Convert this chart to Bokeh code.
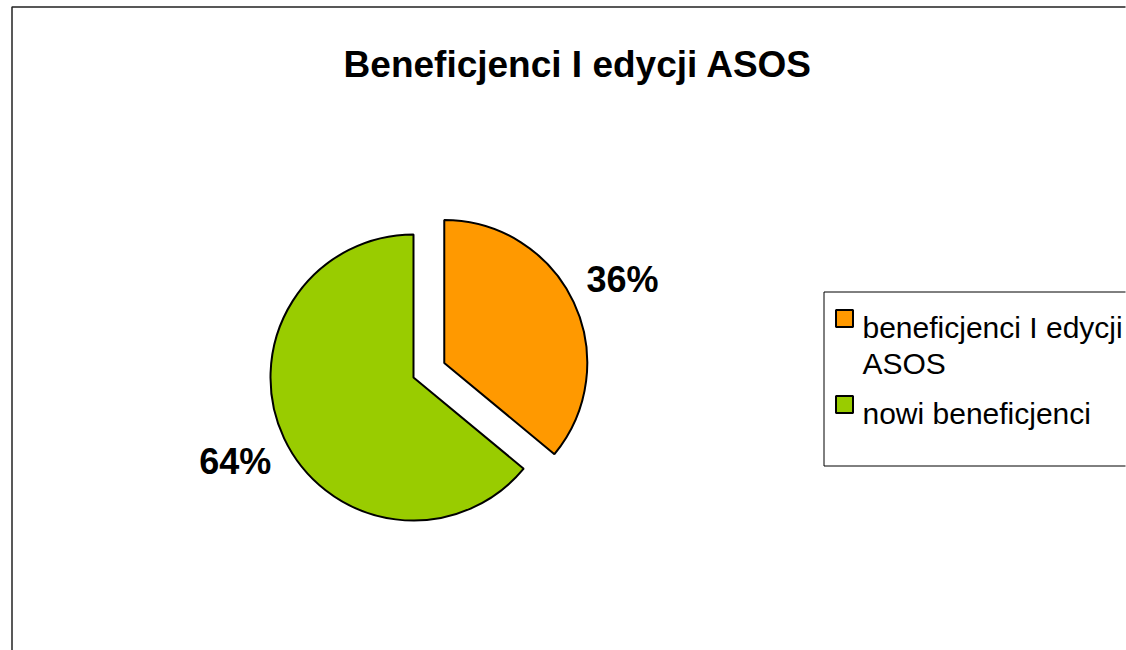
import math
from bokeh.plotting import figure
from bokeh.models import Range1d, ColumnDataSource
from bokeh.core.properties import value
from bokeh.embed import file_html
from bokeh.resources import INLINE

# ---- data ----
title_text = "Beneficjenci I edycji ASOS"
categories = ["beneficjenci I edycji\nASOS", "nowi beneficjenci"]
shares = [36, 64]
colors = ["#FF9900", "#99CC00"]
explode = [34, 0]

# ---- geometry (screen pixels, converted to data units: 1 unit = 1 px) ----
W, H = 1126, 650
def sy(s):
    return H - s

cx, cy = 413, sy(377)
R = 143
label_r = 197
FONT = "Liberation Sans"

p = figure(width=W, height=H, x_range=Range1d(0, W), y_range=Range1d(0, H),
           output_backend="svg", toolbar_location=None, min_border=0,
           x_axis_type=None, y_axis_type=None)
p.grid.visible = False
p.outline_line_color = None
p.background_fill_color = "white"
p.border_fill_color = "white"

# outer chart border (left and top edges; the rest lies outside the view)
p.multi_line(xs=[[11.5, 11.5, W - 1]], ys=[[0, sy(6.5), sy(6.5)]],
             line_color="#222222", line_width=1.5)

# pie slices
total = float(sum(shares))
xs, ys, starts, ends, lx, ly, txt = [], [], [], [], [], [], []
cum = 0.0
for v, ex in zip(shares, explode):
    frac = v / total
    end = math.pi / 2 - 2 * math.pi * cum
    start = math.pi / 2 - 2 * math.pi * (cum + frac)
    mid = (start + end) / 2
    ox = cx + ex * math.cos(mid)
    oy = cy + ex * math.sin(mid)
    xs.append(ox); ys.append(oy); starts.append(start); ends.append(end)
    lx.append(ox + label_r * math.cos(mid)); ly.append(oy + label_r * math.sin(mid))
    txt.append(f"{v}%")
    cum += frac

src = ColumnDataSource(dict(x=xs, y=ys, start=starts, end=ends, color=colors,
                            lx=lx, ly=ly, txt=txt))
p.wedge(x="x", y="y", radius=R, start_angle="start", end_angle="end",
        direction="anticlock", fill_color="color", line_color="black",
        line_width=2, source=src)

# percentage labels
p.text(x="lx", y="ly", text="txt", source=src, text_font=value(FONT),
       text_font_style="bold", text_font_size="36px", text_align="center",
       text_baseline="middle", text_color="black")

# title
p.text(x=[577.5], y=[sy(64)], text=[title_text], text_font=value(FONT),
       text_font_style="bold", text_font_size="37px", text_align="center",
       text_baseline="alphabetic", text_color="black")

# legend box (open on the right, where it runs past the view)
p.multi_line(xs=[[W - 1, 823.5, 823.5, W - 1]],
             ys=[[sy(291.5), sy(291.5), sy(465.5), sy(465.5)]],
             line_color="black", line_width=1)

# legend entries
entry_y = [327, 413]
line_h = 36
for lab, col, by in zip(categories, colors, entry_y):
    p.rect(x=[844], y=[sy(by - 9)], width=17, height=17, fill_color=col,
           line_color="black", line_width=2)
    for i, part in enumerate(lab.split("\n")):
        p.text(x=[862], y=[sy(by + i * line_h)], text=[part], text_font=value(FONT),
               text_font_size="30px", text_align="left",
               text_baseline="alphabetic", text_color="black")

open("out.html", "w").write(file_html(p, INLINE))
